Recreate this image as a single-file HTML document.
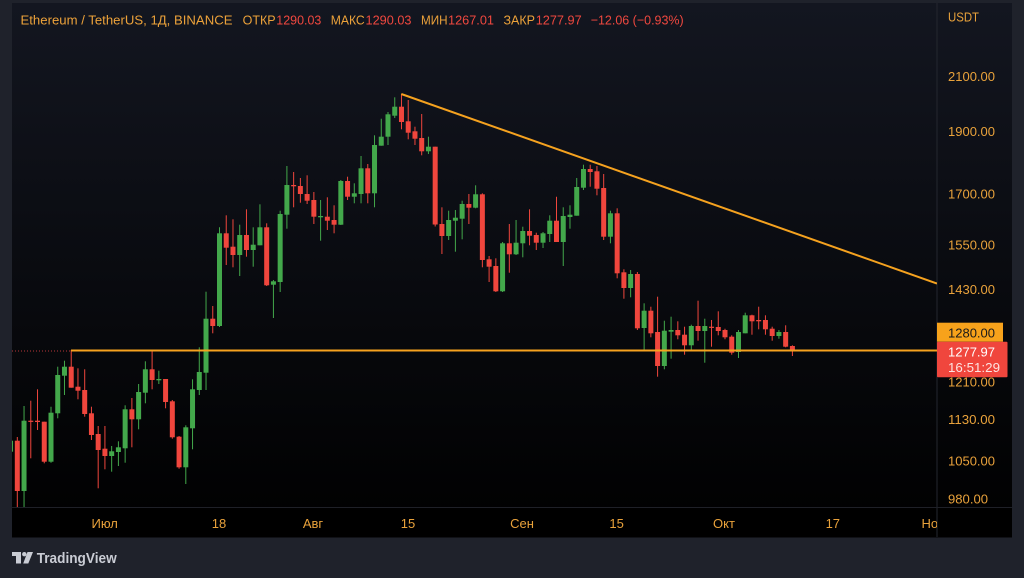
<!DOCTYPE html>
<html><head><meta charset="utf-8"><style>
html,body{margin:0;padding:0;background:#1f222b;width:1024px;height:578px;overflow:hidden}
svg{display:block}
.r{fill:#f0463d;stroke:#f0463d}
.g{fill:#43a84b;stroke:#43a84b}
.r path,.g path{stroke-width:1;fill:none}
.r rect,.g rect{stroke:none}
text{font-family:"Liberation Sans","DejaVu Sans",sans-serif}
.ax{fill:#e9a23b;font-size:13px}
.hl{fill:#eca23a;font-size:13px}
.hv{fill:#f0483f;font-size:13px}
</style></head><body>
<svg width="1024" height="578" viewBox="0 0 1024 578" xmlns="http://www.w3.org/2000/svg">
<defs>
<linearGradient id="bg" x1="0" y1="0" x2="0" y2="1">
<stop offset="0" stop-color="#131620"/>
<stop offset="1" stop-color="#000000"/>
</linearGradient>
<clipPath id="cp"><rect x="12" y="3" width="925" height="504"/></clipPath>
</defs>
<rect x="0" y="0" width="1024" height="578" fill="#1f222b"/>
<rect x="12" y="3" width="1000" height="534" fill="url(#bg)"/>
<rect x="12" y="507.5" width="1000" height="30" fill="#000"/>
<line x1="937" y1="3" x2="937" y2="537" stroke="#24272f" stroke-width="1"/>
<line x1="12" y1="507.5" x2="1012" y2="507.5" stroke="#1e2027" stroke-width="1"/>

<g clip-path="url(#cp)">
<g class="g" transform="translate(10.56)"><path d="M0 440V452"/><rect x="-2.5" y="440.7" width="5" height="11"/></g>
<g class="r" transform="translate(17.3)"><path d="M0 437V507"/><rect x="-2.5" y="440.7" width="5" height="50.3"/></g>
<g class="g" transform="translate(24.04)"><path d="M0 406V507"/><rect x="-2.5" y="420.7" width="5" height="70.3"/></g>
<g class="r" transform="translate(30.78)"><path d="M0 400.7V458.3"/><rect x="-2.5" y="420.7" width="5" height="1.2"/></g>
<g class="r" transform="translate(37.52)"><path d="M0 389.3V430"/><rect x="-2.5" y="420.7" width="5" height="1.3"/></g>
<g class="r" transform="translate(44.26)"><path d="M0 421.7V463.3"/><rect x="-2.5" y="421.7" width="5" height="40"/></g>
<g class="g" transform="translate(51)"><path d="M0 406.7V462.7"/><rect x="-2.5" y="412.7" width="5" height="49"/></g>
<g class="g" transform="translate(57.74)"><path d="M0 366.7V418.3"/><rect x="-2.5" y="375" width="5" height="38.3"/></g>
<g class="g" transform="translate(64.48)"><path d="M0 360.7V395"/><rect x="-2.5" y="366.7" width="5" height="9"/></g>
<g class="r" transform="translate(71.22)"><path d="M0 350V387.7"/><rect x="-2.5" y="366.7" width="5" height="21"/></g>
<g class="r" transform="translate(77.96)"><path d="M0 368.3V399.3"/><rect x="-2.5" y="386.7" width="5" height="4"/></g>
<g class="r" transform="translate(84.7)"><path d="M0 369.3V416.7"/><rect x="-2.5" y="390" width="5" height="24"/></g>
<g class="r" transform="translate(91.44)"><path d="M0 406.7V440"/><rect x="-2.5" y="413.3" width="5" height="21.7"/></g>
<g class="r" transform="translate(98.18)"><path d="M0 426V488.3"/><rect x="-2.5" y="434" width="5" height="16"/></g>
<g class="r" transform="translate(104.92)"><path d="M0 426V469.3"/><rect x="-2.5" y="448.7" width="5" height="7.3"/></g>
<g class="g" transform="translate(111.66)"><path d="M0 446V471.7"/><rect x="-2.5" y="451.3" width="5" height="4.7"/></g>
<g class="g" transform="translate(118.4)"><path d="M0 441.3V466"/><rect x="-2.5" y="447.3" width="5" height="4.7"/></g>
<g class="g" transform="translate(125.14)"><path d="M0 405.3V462.7"/><rect x="-2.5" y="409.3" width="5" height="39"/></g>
<g class="r" transform="translate(131.88)"><path d="M0 398V447.3"/><rect x="-2.5" y="409.3" width="5" height="10"/></g>
<g class="g" transform="translate(138.62)"><path d="M0 384V429.3"/><rect x="-2.5" y="392" width="5" height="27.3"/></g>
<g class="g" transform="translate(145.36)"><path d="M0 361.3V403.3"/><rect x="-2.5" y="369.3" width="5" height="23.4"/></g>
<g class="r" transform="translate(152.1)"><path d="M0 351.3V389.3"/><rect x="-2.5" y="369.3" width="5" height="10.7"/></g>
<g class="g" transform="translate(158.84)"><path d="M0 370.7V384"/><rect x="-2.5" y="379" width="5" height="1.3"/></g>
<g class="r" transform="translate(165.58)"><path d="M0 379V408.3"/><rect x="-2.5" y="379" width="5" height="23"/></g>
<g class="r" transform="translate(172.32)"><path d="M0 400V438.7"/><rect x="-2.5" y="401.3" width="5" height="36"/></g>
<g class="r" transform="translate(179.06)"><path d="M0 436V468.7"/><rect x="-2.5" y="436.7" width="5" height="30.6"/></g>
<g class="g" transform="translate(185.8)"><path d="M0 425.3V484"/><rect x="-2.5" y="427.3" width="5" height="40"/></g>
<g class="g" transform="translate(192.54)"><path d="M0 379.3V449.3"/><rect x="-2.5" y="389.3" width="5" height="39"/></g>
<g class="g" transform="translate(199.28)"><path d="M0 347.3V395"/><rect x="-2.5" y="372" width="5" height="18"/></g>
<g class="g" transform="translate(206.02)"><path d="M0 291.7V390"/><rect x="-2.5" y="318.7" width="5" height="54"/></g>
<g class="r" transform="translate(212.76)"><path d="M0 306V333.3"/><rect x="-2.5" y="318.7" width="5" height="7.3"/></g>
<g class="g" transform="translate(219.5)"><path d="M0 227.3V327"/><rect x="-2.5" y="233.3" width="5" height="92.7"/></g>
<g class="r" transform="translate(226.24)"><path d="M0 215.3V265"/><rect x="-2.5" y="233.3" width="5" height="14.4"/></g>
<g class="r" transform="translate(232.98)"><path d="M0 219.3V267.3"/><rect x="-2.5" y="246.7" width="5" height="8.3"/></g>
<g class="g" transform="translate(239.72)"><path d="M0 224.7V276"/><rect x="-2.5" y="235" width="5" height="20"/></g>
<g class="r" transform="translate(246.46)"><path d="M0 209.3V256.7"/><rect x="-2.5" y="235" width="5" height="15"/></g>
<g class="g" transform="translate(253.2)"><path d="M0 227.3V266.7"/><rect x="-2.5" y="244.7" width="5" height="5.3"/></g>
<g class="g" transform="translate(259.94)"><path d="M0 204.3V245.3"/><rect x="-2.5" y="227.3" width="5" height="18"/></g>
<g class="r" transform="translate(266.68)"><path d="M0 223.3V286"/><rect x="-2.5" y="227.3" width="5" height="58"/></g>
<g class="g" transform="translate(273.42)"><path d="M0 280V318"/><rect x="-2.5" y="281.3" width="5" height="3.4"/></g>
<g class="g" transform="translate(280.16)"><path d="M0 210.7V292"/><rect x="-2.5" y="214" width="5" height="68"/></g>
<g class="g" transform="translate(286.9)"><path d="M0 166V228.7"/><rect x="-2.5" y="185" width="5" height="29.7"/></g>
<g class="r" transform="translate(293.64)"><path d="M0 172V207.3"/><rect x="-2.5" y="185" width="5" height="1.3"/></g>
<g class="r" transform="translate(300.38)"><path d="M0 178V202.7"/><rect x="-2.5" y="186" width="5" height="8"/></g>
<g class="r" transform="translate(307.12)"><path d="M0 175.3V204"/><rect x="-2.5" y="194" width="5" height="6.7"/></g>
<g class="r" transform="translate(313.86)"><path d="M0 192V224"/><rect x="-2.5" y="200" width="5" height="16.7"/></g>
<g class="g" transform="translate(320.6)"><path d="M0 200V240.7"/><rect x="-2.5" y="216" width="5" height="1.3"/></g>
<g class="r" transform="translate(327.34)"><path d="M0 197.3V230"/><rect x="-2.5" y="216.7" width="5" height="4"/></g>
<g class="r" transform="translate(334.08)"><path d="M0 205.3V233.3"/><rect x="-2.5" y="220" width="5" height="4.7"/></g>
<g class="g" transform="translate(340.82)"><path d="M0 180V225"/><rect x="-2.5" y="181" width="5" height="43.7"/></g>
<g class="r" transform="translate(347.56)"><path d="M0 176.7V200"/><rect x="-2.5" y="181" width="5" height="15.7"/></g>
<g class="g" transform="translate(354.3)"><path d="M0 183.3V203.3"/><rect x="-2.5" y="193.3" width="5" height="3.4"/></g>
<g class="g" transform="translate(361.04)"><path d="M0 156V203.3"/><rect x="-2.5" y="168.3" width="5" height="25.7"/></g>
<g class="r" transform="translate(367.78)"><path d="M0 164V203.3"/><rect x="-2.5" y="168.3" width="5" height="25"/></g>
<g class="g" transform="translate(374.52)"><path d="M0 135.3V207.3"/><rect x="-2.5" y="145" width="5" height="48.3"/></g>
<g class="g" transform="translate(381.26)"><path d="M0 118.7V145.7"/><rect x="-2.5" y="136.7" width="5" height="9"/></g>
<g class="g" transform="translate(388)"><path d="M0 112V145"/><rect x="-2.5" y="114.3" width="5" height="22.4"/></g>
<g class="g" transform="translate(394.74)"><path d="M0 97.3V118"/><rect x="-2.5" y="106.7" width="5" height="9"/></g>
<g class="r" transform="translate(401.48)"><path d="M0 94V129.3"/><rect x="-2.5" y="106.7" width="5" height="15.3"/></g>
<g class="r" transform="translate(408.22)"><path d="M0 100V139.3"/><rect x="-2.5" y="121.3" width="5" height="11.4"/></g>
<g class="r" transform="translate(414.96)"><path d="M0 126.7V145"/><rect x="-2.5" y="131.3" width="5" height="7.4"/></g>
<g class="r" transform="translate(421.7)"><path d="M0 114V155.3"/><rect x="-2.5" y="138" width="5" height="13.3"/></g>
<g class="g" transform="translate(428.44)"><path d="M0 136.7V154"/><rect x="-2.5" y="146.7" width="5" height="4.6"/></g>
<g class="r" transform="translate(435.18)"><path d="M0 146.7V226.5"/><rect x="-2.5" y="146.7" width="5" height="77.8"/></g>
<g class="r" transform="translate(441.92)"><path d="M0 207.3V254"/><rect x="-2.5" y="224" width="5" height="12"/></g>
<g class="g" transform="translate(448.66)"><path d="M0 210.7V240"/><rect x="-2.5" y="220" width="5" height="16"/></g>
<g class="g" transform="translate(455.4)"><path d="M0 210V251.7"/><rect x="-2.5" y="217.7" width="5" height="3"/></g>
<g class="g" transform="translate(462.14)"><path d="M0 200.7V239.3"/><rect x="-2.5" y="204" width="5" height="14.7"/></g>
<g class="r" transform="translate(468.88)"><path d="M0 194V224"/><rect x="-2.5" y="204" width="5" height="3.7"/></g>
<g class="g" transform="translate(475.62)"><path d="M0 185.3V208.3"/><rect x="-2.5" y="194.3" width="5" height="13.4"/></g>
<g class="r" transform="translate(482.36)"><path d="M0 193.3V267.3"/><rect x="-2.5" y="194.3" width="5" height="65.7"/></g>
<g class="r" transform="translate(489.1)"><path d="M0 256V282"/><rect x="-2.5" y="259.3" width="5" height="7.4"/></g>
<g class="r" transform="translate(495.84)"><path d="M0 258.3V292"/><rect x="-2.5" y="266" width="5" height="25.3"/></g>
<g class="g" transform="translate(502.58)"><path d="M0 242V292"/><rect x="-2.5" y="243.3" width="5" height="48"/></g>
<g class="r" transform="translate(509.32)"><path d="M0 224V272.7"/><rect x="-2.5" y="243.3" width="5" height="11"/></g>
<g class="g" transform="translate(516.06)"><path d="M0 220V255"/><rect x="-2.5" y="242.7" width="5" height="11.6"/></g>
<g class="g" transform="translate(522.8)"><path d="M0 226.7V257.3"/><rect x="-2.5" y="231" width="5" height="12.3"/></g>
<g class="r" transform="translate(529.54)"><path d="M0 209.3V245.3"/><rect x="-2.5" y="231" width="5" height="4.7"/></g>
<g class="r" transform="translate(536.28)"><path d="M0 232.7V250"/><rect x="-2.5" y="235" width="5" height="7.7"/></g>
<g class="g" transform="translate(543.02)"><path d="M0 232V248"/><rect x="-2.5" y="233.3" width="5" height="9.4"/></g>
<g class="g" transform="translate(549.76)"><path d="M0 215.3V242"/><rect x="-2.5" y="220.7" width="5" height="13.3"/></g>
<g class="r" transform="translate(556.5)"><path d="M0 196.7V242"/><rect x="-2.5" y="220.7" width="5" height="21.3"/></g>
<g class="g" transform="translate(563.24)"><path d="M0 207.3V266"/><rect x="-2.5" y="216" width="5" height="26"/></g>
<g class="g" transform="translate(569.98)"><path d="M0 205.3V228.7"/><rect x="-2.5" y="214.7" width="5" height="2.3"/></g>
<g class="g" transform="translate(576.72)"><path d="M0 178V215.7"/><rect x="-2.5" y="187" width="5" height="28.7"/></g>
<g class="g" transform="translate(583.46)"><path d="M0 164.7V190"/><rect x="-2.5" y="169" width="5" height="18.7"/></g>
<g class="r" transform="translate(590.2)"><path d="M0 164.7V186.7"/><rect x="-2.5" y="169" width="5" height="3"/></g>
<g class="r" transform="translate(596.94)"><path d="M0 166V195.3"/><rect x="-2.5" y="171.3" width="5" height="17.4"/></g>
<g class="r" transform="translate(603.68)"><path d="M0 174V240"/><rect x="-2.5" y="188" width="5" height="48.7"/></g>
<g class="g" transform="translate(610.42)"><path d="M0 210.7V243.3"/><rect x="-2.5" y="213.3" width="5" height="23.4"/></g>
<g class="r" transform="translate(617.16)"><path d="M0 208.3V278.3"/><rect x="-2.5" y="213.3" width="5" height="60"/></g>
<g class="r" transform="translate(623.9)"><path d="M0 269.3V298.7"/><rect x="-2.5" y="272.3" width="5" height="15.7"/></g>
<g class="g" transform="translate(630.64)"><path d="M0 270V297.3"/><rect x="-2.5" y="274" width="5" height="14"/></g>
<g class="r" transform="translate(637.38)"><path d="M0 272V330"/><rect x="-2.5" y="274" width="5" height="54.3"/></g>
<g class="g" transform="translate(644.12)"><path d="M0 303.3V350"/><rect x="-2.5" y="310.7" width="5" height="17.3"/></g>
<g class="r" transform="translate(650.86)"><path d="M0 306.7V337.3"/><rect x="-2.5" y="310.7" width="5" height="22.6"/></g>
<g class="r" transform="translate(657.6)"><path d="M0 296.7V376.7"/><rect x="-2.5" y="332" width="5" height="34"/></g>
<g class="g" transform="translate(664.34)"><path d="M0 320.7V369.3"/><rect x="-2.5" y="330.7" width="5" height="35.3"/></g>
<g class="g" transform="translate(671.08)"><path d="M0 316.7V358.7"/><rect x="-2.5" y="330" width="5" height="1.7"/></g>
<g class="r" transform="translate(677.82)"><path d="M0 321.3V339.3"/><rect x="-2.5" y="330" width="5" height="5.3"/></g>
<g class="r" transform="translate(684.56)"><path d="M0 326.7V354.7"/><rect x="-2.5" y="334.7" width="5" height="10.6"/></g>
<g class="g" transform="translate(691.3)"><path d="M0 324.7V350.7"/><rect x="-2.5" y="326" width="5" height="19.3"/></g>
<g class="r" transform="translate(698.04)"><path d="M0 300.7V340.7"/><rect x="-2.5" y="326" width="5" height="5"/></g>
<g class="g" transform="translate(704.78)"><path d="M0 318.7V362.7"/><rect x="-2.5" y="326" width="5" height="5"/></g>
<g class="r" transform="translate(711.52)"><path d="M0 320V346.7"/><rect x="-2.5" y="326.7" width="5" height="1.2"/></g>
<g class="r" transform="translate(718.26)"><path d="M0 311.3V335.3"/><rect x="-2.5" y="327" width="5" height="4"/></g>
<g class="r" transform="translate(725)"><path d="M0 328.7V339.3"/><rect x="-2.5" y="330" width="5" height="7.3"/></g>
<g class="r" transform="translate(731.74)"><path d="M0 335.3V354.7"/><rect x="-2.5" y="336.7" width="5" height="16"/></g>
<g class="g" transform="translate(738.48)"><path d="M0 330V358"/><rect x="-2.5" y="332" width="5" height="20"/></g>
<g class="g" transform="translate(745.22)"><path d="M0 312.7V333.3"/><rect x="-2.5" y="315.3" width="5" height="18"/></g>
<g class="r" transform="translate(751.96)"><path d="M0 314.7V334.7"/><rect x="-2.5" y="315.3" width="5" height="6"/></g>
<g class="r" transform="translate(758.7)"><path d="M0 306.7V329.3"/><rect x="-2.5" y="320" width="5" height="1.3"/></g>
<g class="r" transform="translate(765.44)"><path d="M0 315.3V334.7"/><rect x="-2.5" y="320" width="5" height="9.3"/></g>
<g class="r" transform="translate(772.18)"><path d="M0 326.7V340.7"/><rect x="-2.5" y="328.7" width="5" height="7.3"/></g>
<g class="g" transform="translate(778.92)"><path d="M0 330V338.7"/><rect x="-2.5" y="332" width="5" height="4"/></g>
<g class="r" transform="translate(785.66)"><path d="M0 325.3V347.3"/><rect x="-2.5" y="332" width="5" height="14.7"/></g>
<g class="r" transform="translate(792.4)"><path d="M0 345.3V356"/><rect x="-2.5" y="346" width="5" height="5.3"/></g>

<line x1="12" y1="351" x2="937" y2="351" stroke="#b8363a" stroke-width="1" stroke-dasharray="1 2"/>
<line x1="71" y1="350.5" x2="937" y2="350.5" stroke="#f5a21f" stroke-width="2"/>
<line x1="401.3" y1="94" x2="937" y2="283.5" stroke="#f5a21f" stroke-width="2"/>
</g>

<!-- header -->
<text x="20.5" y="24.5" class="hl" textLength="212" lengthAdjust="spacingAndGlyphs">Ethereum / TetherUS, 1Д, BINANCE</text>
<text x="242.6" y="24.5" class="hl" textLength="33" lengthAdjust="spacingAndGlyphs">ОТКР</text>
<text x="276.3" y="24.5" class="hv" textLength="45" lengthAdjust="spacingAndGlyphs">1290.03</text>
<text x="330.7" y="24.5" class="hl" textLength="34" lengthAdjust="spacingAndGlyphs">МАКС</text>
<text x="365.5" y="24.5" class="hv" textLength="46" lengthAdjust="spacingAndGlyphs">1290.03</text>
<text x="421" y="24.5" class="hl" textLength="26.5" lengthAdjust="spacingAndGlyphs">МИН</text>
<text x="448" y="24.5" class="hv" textLength="46" lengthAdjust="spacingAndGlyphs">1267.01</text>
<text x="503.5" y="24.5" class="hl" textLength="31.5" lengthAdjust="spacingAndGlyphs">ЗАКР</text>
<text x="535.7" y="24.5" class="hv" textLength="46" lengthAdjust="spacingAndGlyphs">1277.97</text>
<text x="590.7" y="24.5" class="hv" textLength="93" lengthAdjust="spacingAndGlyphs">−12.06 (−0.93%)</text>

<!-- price axis -->
<text x="948" y="21.5" class="ax" textLength="31" lengthAdjust="spacingAndGlyphs">USDT</text>
<text x="948" y="80.8" class="ax" textLength="47" lengthAdjust="spacingAndGlyphs">2100.00</text>
<text x="948" y="135.9" class="ax" textLength="47" lengthAdjust="spacingAndGlyphs">1900.00</text>
<text x="948" y="198.6" class="ax" textLength="47" lengthAdjust="spacingAndGlyphs">1700.00</text>
<text x="948" y="249.3" class="ax" textLength="47" lengthAdjust="spacingAndGlyphs">1550.00</text>
<text x="948" y="294.1" class="ax" textLength="47" lengthAdjust="spacingAndGlyphs">1430.00</text>
<text x="948" y="386.5" class="ax" textLength="47" lengthAdjust="spacingAndGlyphs">1210.00</text>
<text x="948" y="424" class="ax" textLength="47" lengthAdjust="spacingAndGlyphs">1130.00</text>
<text x="948" y="465.7" class="ax" textLength="47" lengthAdjust="spacingAndGlyphs">1050.00</text>
<text x="948" y="503.7" class="ax" textLength="40" lengthAdjust="spacingAndGlyphs">980.00</text>

<rect x="937" y="322.7" width="66" height="19" fill="#f7a21b"/>
<text x="948" y="337.3" font-size="13" fill="#1a1a1a" textLength="47" lengthAdjust="spacingAndGlyphs">1280.00</text>
<rect x="937" y="341.7" width="70.5" height="35.6" rx="1" fill="#f0463d"/>
<text x="948" y="356.3" font-size="13" fill="#ffffff" textLength="47" lengthAdjust="spacingAndGlyphs">1277.97</text>
<text x="948" y="372" font-size="13" fill="#fde3e1" textLength="52" lengthAdjust="spacingAndGlyphs">16:51:29</text>

<!-- time axis -->
<text x="104.7" y="528" class="ax" text-anchor="middle">Июл</text>
<text x="219" y="528" class="ax" text-anchor="middle">18</text>
<text x="313" y="528" class="ax" text-anchor="middle">Авг</text>
<text x="408" y="528" class="ax" text-anchor="middle">15</text>
<text x="522" y="528" class="ax" text-anchor="middle">Сен</text>
<text x="616.6" y="528" class="ax" text-anchor="middle">15</text>
<text x="724" y="528" class="ax" text-anchor="middle">Окт</text>
<text x="832.8" y="528" class="ax" text-anchor="middle">17</text>
<svg x="12" y="507" width="925" height="30" overflow="hidden"><text x="909.5" y="21" class="ax">Ноя</text></svg>

<!-- logo -->
<g fill="#c9ccd4">
<rect x="12" y="552" width="9" height="4"/>
<rect x="16" y="552" width="5" height="11.5"/>
<circle cx="24.3" cy="554.2" r="2.2"/>
<polygon points="27.5,552 33,552 28.3,563.5 23.2,563.5"/>
</g>
<text x="36.7" y="563" font-size="15" font-weight="600" fill="#c9ccd4" textLength="80" lengthAdjust="spacingAndGlyphs">TradingView</text>
</svg>
</body></html>
